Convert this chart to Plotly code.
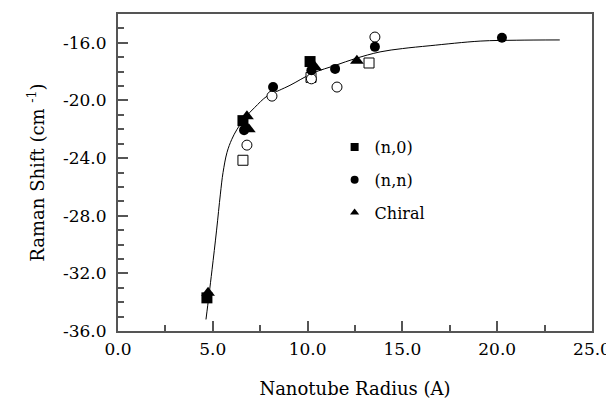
import plotly.graph_objects as go

# (n,0) zigzag tubes
n0_x = [4.69, 6.59, 10.13]
n0_y = [-33.7, -21.4, -17.3]
n0_open_x = [6.59, 10.18, 13.24]
n0_open_y = [-24.15, -18.4, -17.4]

# (n,n) armchair tubes
nn_x = [6.65, 8.18, 10.2, 11.45, 13.55, 20.25]
nn_y = [-22.06, -19.07, -17.9, -17.81, -16.28, -15.65]
nn_open_x = [6.8, 8.12, 10.2, 11.55, 13.55]
nn_open_y = [-23.1, -19.7, -18.5, -19.07, -15.6]

# Chiral tubes
ch_x = [4.75, 6.8, 6.9, 10.4, 12.6]
ch_y = [-33.35, -21.1, -22.0, -17.7, -17.25]

# Fitted curve
fit_x = [4.64, 4.8, 4.96, 5.2, 5.4, 5.54, 5.75, 6.0, 6.28, 6.7, 7.2, 7.86,
         8.5, 9.07, 10.28, 11.5, 12.5, 13.82, 15.0, 16.46, 19.1, 21.0, 23.3]
fit_y = [-35.2, -33.5, -31.75, -29.0, -26.5, -25.0, -23.6, -22.7, -22.0, -21.2,
         -20.5, -19.7, -19.3, -18.95, -18.1, -17.55, -17.1, -16.63, -16.4,
         -16.2, -15.88, -15.82, -15.8]

x_ticks = [0, 5, 10, 15, 20, 25]
y_ticks = [-36, -32, -28, -24, -20, -16]
legend_names = ["(n,0)", "(n,n)", "Chiral"]

FONT = "DejaVu Serif"
AX = "#555555"

fig = go.Figure()
fig.add_trace(go.Scatter(x=fit_x, y=fit_y, mode="lines", line=dict(color="black", width=1, shape="spline"),
                         showlegend=False, hoverinfo="skip"))
fig.add_trace(go.Scatter(x=n0_open_x, y=n0_open_y, mode="markers", showlegend=False,
                         marker=dict(symbol="square", size=10, color="white", line=dict(color="black", width=1))))
fig.add_trace(go.Scatter(x=nn_open_x, y=nn_open_y, mode="markers", showlegend=False,
                         marker=dict(symbol="circle", size=10, color="white", line=dict(color="black", width=1))))
fig.add_trace(go.Scatter(x=n0_x, y=n0_y, mode="markers", showlegend=False,
                         marker=dict(symbol="square", size=11, color="black")))
fig.add_trace(go.Scatter(x=nn_x, y=nn_y, mode="markers", showlegend=False,
                         marker=dict(symbol="circle", size=10, color="black")))
fig.add_trace(go.Scatter(x=ch_x, y=ch_y, mode="markers", showlegend=False,
                         marker=dict(symbol="triangle-up", size=12, color="black")))

# legend-only entries (smaller symbols, like the reference key)
for name, sym, grp in zip(legend_names, ["square", "circle", "triangle-up"], ["a", "b", "c"]):
    fig.add_trace(go.Scatter(x=[None], y=[None], mode="markers", name=name, legendgroup=grp,
                             marker=dict(symbol=sym, size=8, color="black")))

fig.update_layout(
    width=606, height=392,
    margin=dict(l=110, r=22, t=6, b=69),
    plot_bgcolor="white", paper_bgcolor="white",
    font=dict(family=FONT, size=17, color="black"),
    legend=dict(x=0.457, y=0.634, xanchor="left", yanchor="top", bgcolor="rgba(0,0,0,0)",
                font=dict(family=FONT, size=16), tracegroupgap=9, itemsizing="trace"),
    xaxis=dict(range=[0, 25], tickvals=x_ticks, ticktext=[f"{v:.1f}" for v in x_ticks],
               ticks="inside", ticklen=10, tickwidth=1.5, tickcolor=AX, ticklabelstandoff=2,
               tickfont=dict(family=FONT, size=17), automargin=False,
               showline=True, linecolor=AX, linewidth=2, mirror=True, showgrid=False, zeroline=False,
               minor=dict(dtick=2.5, tick0=0, ticks="inside", ticklen=6, tickcolor=AX, showgrid=False),
               title=dict(text="Nanotube Radius (A)", font=dict(family=FONT, size=18), standoff=24)),
    yaxis=dict(range=[-36, -14], tickvals=y_ticks, ticktext=[f"{v:.1f}" for v in y_ticks],
               ticks="inside", ticklen=10, tickwidth=1.5, tickcolor=AX, ticklabelstandoff=6,
               tickfont=dict(family=FONT, size=17), automargin=False,
               showline=True, linecolor=AX, linewidth=2, mirror=True, showgrid=False, zeroline=False,
               minor=dict(dtick=1, tick0=-36, ticks="inside", ticklen=6, tickcolor=AX, showgrid=False),
               title=dict(text="Raman Shift (cm <sup>-1</sup>)", font=dict(family=FONT, size=18), standoff=14)),
)

fig.write_html("out.html")
